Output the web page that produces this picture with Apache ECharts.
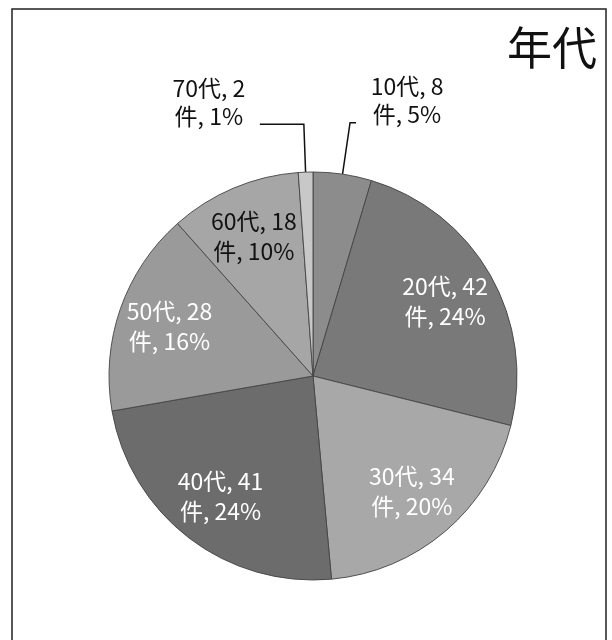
<!DOCTYPE html>
<html>
<head>
<meta charset="utf-8">
<script src="https://cdn.jsdelivr.net/npm/echarts@6/dist/echarts.min.js"></script>
<style>
  html, body { margin: 0; padding: 0; background: #fff; }
  #chart { width: 612px; height: 640px; }
</style>
</head>
<body>
<div id="chart"></div>
<script>
// データ
const ages = ['10代', '20代', '30代', '40代', '50代', '60代', '70代']
const counts = [8, 42, 34, 41, 28, 18, 2]
const percents = ['5%', '24%', '20%', '24%', '16%', '10%', '1%']
const grays = ['#8c8c8c', '#797979', '#a8a8a8', '#6c6c6c', '#9a9a9a', '#a6a6a6', '#c8c8c8']
const outsideAges = ['10代', '70代']
const darkTextAges = ['60代']

const font = '"Noto Sans CJK JP", "Noto Sans", sans-serif'
const pieCenter = [313, 376]
const pieRadius = 204

const labelText = (i) => '{a|' + ages[i] + ', ' + counts[i] + '}\n{a|件, ' + percents[i] + '}'

// 本体（外側ラベルだけここで表示）
const mainData = ages.map((name, i) => {
    const outside = outsideAges.includes(name)
    return {
        name: name,
        value: counts[i],
        itemStyle: { color: grays[i] },
        label: outside ? { show: true } : { show: false },
        labelLine: name === '70代' ? { show: true, length: 48, length2: 44 } : { show: outside }
    }
})

// 内側ラベル用（透明、半径を広げてラベルを外寄りに）
const ghostData = ages.map((name, i) => ({
    name: name,
    value: counts[i],
    itemStyle: { color: 'transparent', borderWidth: 0 },
    label: {
        show: !outsideAges.includes(name),
        color: darkTextAges.includes(name) ? '#111' : '#fff'
    }
}))

const chart = echarts.init(document.getElementById('chart'))
chart.setOption({
    animation: false,
    title: {
        text: '年代',
        right: 10,
        top: 20,
        textStyle: { fontFamily: font, fontSize: 45, fontWeight: 'normal', color: '#111' }
    },
    graphic: [{
        type: 'rect',
        shape: { x: 12, y: 9, width: 594, height: 640 },
        style: { fill: 'none', stroke: '#222', lineWidth: 1.5 },
        silent: true
    }],
    series: [
        {
            type: 'pie',
            center: pieCenter,
            radius: pieRadius,
            startAngle: 90,
            clockwise: true,
            data: mainData,
            itemStyle: { borderColor: '#444', borderWidth: 0.9 },
            label: {
                position: 'outside',
                formatter: (p) => labelText(p.dataIndex),
                color: '#111',
                fontFamily: font,
                fontSize: 23,
                padding: [0, 0, 44, 0],
                rich: {
                    a: { fontFamily: font, fontSize: 23, lineHeight: 28, width: 92, align: 'center', color: '#111' }
                }
            },
            labelLine: {
                length: 52,
                length2: 6,
                lineStyle: { color: '#111', width: 1.5 }
            },
            emphasis: { disabled: true }
        },
        {
            type: 'pie',
            center: pieCenter,
            radius: [94, pieRadius],
            startAngle: 90,
            clockwise: true,
            silent: true,
            data: ghostData,
            label: {
                position: 'inside',
                formatter: (p) => labelText(p.dataIndex).replace(/\{a\|/g, '{b|'),
                fontFamily: font,
                fontSize: 23,
                rich: {
                    b: { fontFamily: font, fontSize: 23, lineHeight: 30 }
                }
            },
            labelLine: { show: false },
            emphasis: { disabled: true }
        }
    ]
})
</script>
</body>
</html>
